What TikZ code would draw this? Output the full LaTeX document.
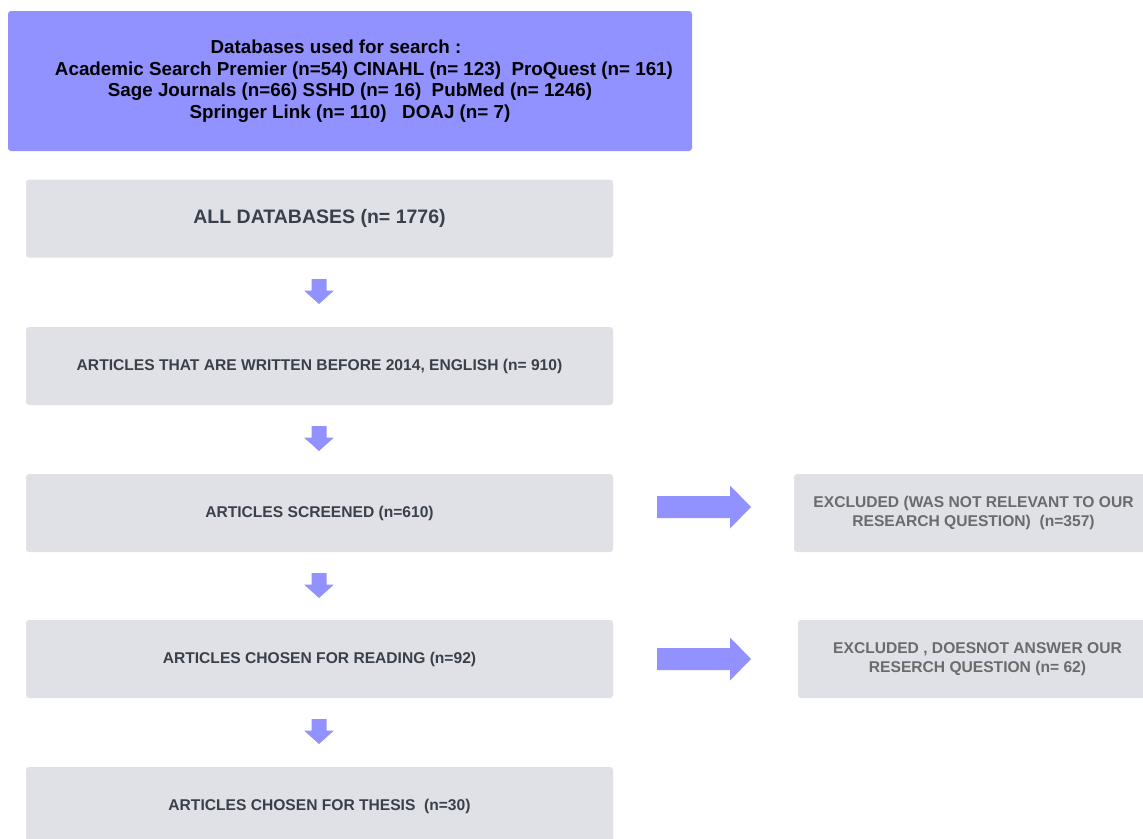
\documentclass[tikz,border=0pt]{standalone}
\usepackage{fontspec}
\setmainfont{Liberation Sans}
\definecolor{topcol}{HTML}{9191FF}
\definecolor{boxcol}{HTML}{DFE1E6}
\definecolor{txtdark}{HTML}{3A404B}
\definecolor{txtgray}{HTML}{6B6B6B}
\definecolor{arrowcol}{HTML}{9191FF}
\tikzset{
  topbox/.style={fill=topcol, rounded corners=3pt, inner sep=0pt, minimum width=684pt, minimum height=140pt, align=center, font=\bfseries\fontsize{18.8}{21.5}\selectfont, text=black},
  graybox/.style={fill=boxcol, rounded corners=3pt, inner sep=0pt, minimum width=587pt, minimum height=78pt, align=center, font=\bfseries\fontsize{15.6}{17}\selectfont, text=txtdark},
  sidebox/.style={fill=boxcol, rounded corners=3pt, inner sep=0pt, minimum width=359pt, minimum height=78pt, align=center, font=\bfseries\fontsize{15.6}{19}\selectfont, text=txtgray},
  darr/.pic={\fill[arrowcol] (-7.5,0) -- (7.5,0) -- (7.5,11.5) -- (15,11.5) -- (0,25) -- (-15,11.5) -- (-7.5,11.5) -- cycle;},
  rarr/.pic={\fill[arrowcol] (0,-11) -- (73,-11) -- (73,-21.5) -- (94,0) -- (73,21.5) -- (73,11) -- (0,11) -- cycle;}
}
\begin{document}
\begin{tikzpicture}[x=1pt,y=-1pt]
\useasboundingbox (0,0) rectangle (1143,838);
\clip (0,0) rectangle (1143,838);
\node[topbox] (db) at (350,81) {Databases used for search :\hspace*{28pt}\\
\hspace*{28pt}Academic Search Premier (n=54) CINAHL (n= 123)\ \ ProQuest (n= 161)\\
Sage Journals (n=66) SSHD (n= 16)\ \ PubMed (n= 1246)\\
Springer Link (n= 110)\ \ \ DOAJ (n= 7)};
\node[graybox, font=\bfseries\fontsize{19.5}{22}\selectfont] (all) at (319.5,218.5) {ALL DATABASES (n= 1776)};
\node[graybox] (eng) at (319.5,366) {ARTICLES THAT ARE WRITTEN BEFORE 2014, ENGLISH (n= 910)};
\node[graybox] (scr) at (319.5,513) {ARTICLES SCREENED (n=610)};
\node[graybox] (read) at (319.5,659) {ARTICLES CHOSEN FOR READING (n=92)};
\node[graybox] (thesis) at (319.5,806) {ARTICLES CHOSEN FOR THESIS\ \ (n=30)};
\node[sidebox] (ex1) at (973.5,513) {EXCLUDED (WAS NOT RELEVANT TO OUR\\RESEARCH QUESTION)\ \ (n=357)};
\node[sidebox] (ex2) at (977.5,659) {EXCLUDED , DOESNOT ANSWER OUR\\RESERCH QUESTION (n= 62)};
\coordinate (a1) at (319,279);
\coordinate (a2) at (319,426);
\coordinate (a3) at (319,573);
\coordinate (a4) at (319,719);
\coordinate (r1) at (657,507);
\coordinate (r2) at (657,659);
\pic at (a1) {darr};
\pic at (a2) {darr};
\pic at (a3) {darr};
\pic at (a4) {darr};
\pic at (r1) {rarr};
\pic at (r2) {rarr};
\end{tikzpicture}
\end{document}
